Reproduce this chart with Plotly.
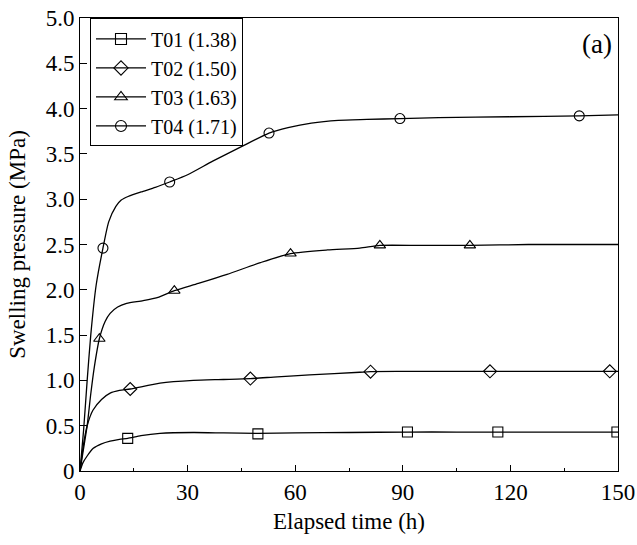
import plotly.graph_objects as go

# ---- data ----
series_names = ["T01 (1.38)", "T02 (1.50)", "T03 (1.63)", "T04 (1.71)"]
symbols = ["square-open", "diamond-open", "triangle-up-open", "circle-open"]

# smooth measured curves
t01_t = [0, 0.8, 1.9, 3.7, 6, 8.4, 11, 13.3, 17, 22.3, 31.6, 40, 49.6, 60, 75, 91.3, 105, 116.5, 130, 150]
t01_p = [0, 0.09, 0.16, 0.25, 0.30, 0.33, 0.35, 0.36, 0.39, 0.415, 0.425, 0.42, 0.415, 0.42, 0.425, 0.43, 0.43, 0.43, 0.43, 0.43]

t02_t = [0, 1, 2, 3.6, 6, 8.4, 11, 14, 22.3, 31.6, 40, 47.5, 55, 64, 78, 81, 95, 114.3, 130, 147.7, 150]
t02_p = [0, 0.30, 0.50, 0.67, 0.79, 0.86, 0.89, 0.905, 0.97, 1.00, 1.01, 1.02, 1.04, 1.06, 1.09, 1.096, 1.10, 1.10, 1.10, 1.10, 1.10]

t03_t = [0, 1, 2, 3, 4, 5.4, 7, 8.4, 10.5, 13, 17.6, 22, 26.3, 33, 41, 50.3, 58.7, 69, 78, 83.6, 95, 108.7, 125, 150]
t03_p = [0, 0.25, 0.50, 0.85, 1.15, 1.46, 1.65, 1.74, 1.81, 1.85, 1.88, 1.92, 1.99, 2.07, 2.17, 2.30, 2.40, 2.44, 2.46, 2.49, 2.49, 2.49, 2.50, 2.50]

t04_t = [0, 1, 2, 3, 4.5, 6.4, 8, 10, 11.5, 13.4, 17, 21, 25, 30, 37, 45, 52.7, 58, 64.5, 72, 80, 89.2, 100, 120, 139.2, 150]
t04_p = [0, 0.45, 1.0, 1.5, 2.05, 2.46, 2.75, 2.92, 2.99, 3.03, 3.08, 3.13, 3.19, 3.27, 3.42, 3.58, 3.73, 3.79, 3.84, 3.87, 3.88, 3.89, 3.90, 3.91, 3.92, 3.93]

# plotted marker positions
t01_mt = [13.3, 49.6, 91.3, 116.5, 149.7]
t01_mp = [0.36, 0.41, 0.43, 0.43, 0.43]
t02_mt = [14.0, 47.5, 81.0, 114.3, 147.7]
t02_mp = [0.905, 1.02, 1.096, 1.10, 1.10]
t03_mt = [5.4, 26.3, 58.7, 83.6, 108.7]
t03_mp = [1.46, 1.99, 2.40, 2.49, 2.49]
t04_mt = [6.4, 25.0, 52.7, 89.2, 139.2]
t04_mp = [2.46, 3.19, 3.73, 3.89, 3.92]

x_ticks = [0, 30, 60, 90, 120, 150]
y_ticks = [0, 0.5, 1.0, 1.5, 2.0, 2.5, 3.0, 3.5, 4.0, 4.5, 5.0]
y_tick_text = ["0", "0.5", "1.0", "1.5", "2.0", "2.5", "3.0", "3.5", "4.0", "4.5", "5.0"]

curves = [(t01_t, t01_p), (t02_t, t02_p), (t03_t, t03_p), (t04_t, t04_p)]
markers = [(t01_mt, t01_mp), (t02_mt, t02_mp), (t03_mt, t03_mp), (t04_mt, t04_mp)]

FONT = "Liberation Serif"
fig = go.Figure()

for (ct, cp), (mt, mp), name, sym in zip(curves, markers, series_names, symbols):
    fig.add_trace(go.Scatter(x=ct, y=cp, mode="lines", line=dict(color="black", width=1.3, shape="spline", smoothing=0.6),
                             showlegend=False, hoverinfo="skip"))
    fig.add_trace(go.Scatter(x=mt, y=mp, mode="markers",
                             marker=dict(symbol=sym, size=10, color="black", line=dict(width=1.1, color="black")),
                             showlegend=False))
    fig.add_trace(go.Scatter(x=[None], y=[None], mode="lines+markers", name=name,
                             line=dict(color="black", width=1.3),
                             marker=dict(symbol=sym, size=11, color="black", line=dict(width=1.1, color="black"))))

W, H = 637, 545
ML, MT, MR, MB = 80, 18, 19, 74
pw, ph = W - ML - MR, H - MT - MB

fig.update_layout(
    width=W, height=H,
    margin=dict(l=ML, r=MR, t=MT, b=MB),
    paper_bgcolor="white", plot_bgcolor="white",
    font=dict(family=FONT, size=23, color="black"),
    legend=dict(x=10 / pw, y=0.999, xanchor="left", yanchor="top",
                bordercolor="black", borderwidth=1, bgcolor="white",
                font=dict(family=FONT, size=20), tracegroupgap=0, itemwidth=50),
    xaxis=dict(range=[0, 150], tickmode="array", tickvals=x_ticks, ticks="inside", ticklen=6,
               tickcolor="black", showline=True, linecolor="black", linewidth=1, mirror=True,
               showgrid=False, zeroline=False, automargin=False, ticklabeloverflow="allow",
               minor=dict(ticks="inside", ticklen=3, dtick=15, tick0=0, tickcolor="black", showgrid=False),
               title=dict(text="Elapsed time (h)", font=dict(family=FONT, size=23), standoff=9),
               tickfont=dict(family=FONT, size=23)),
    yaxis=dict(range=[0, 5.0], tickmode="array", tickvals=y_ticks, ticktext=y_tick_text, ticks="inside", ticklen=7,
               tickcolor="black", showline=True, linecolor="black", linewidth=1, mirror=True,
               showgrid=False, zeroline=False, automargin=False, ticklabeloverflow="allow",
               title=dict(text="Swelling pressure (MPa)", font=dict(family=FONT, size=23), standoff=13),
               tickfont=dict(family=FONT, size=23)),
    annotations=[dict(text="(a)", x=(597 - ML) / pw, y=(H - MB - 44) / ph,
                      xref="paper", yref="paper", xanchor="center", yanchor="middle",
                      showarrow=False, font=dict(family=FONT, size=27))],
)

# remove the default 8px page margin so the figure sits at the window's top-left corner
fig.write_html("out.html", config={"displayModeBar": False},
               post_script="document.body.style.margin='0';document.body.style.overflow='hidden';")
